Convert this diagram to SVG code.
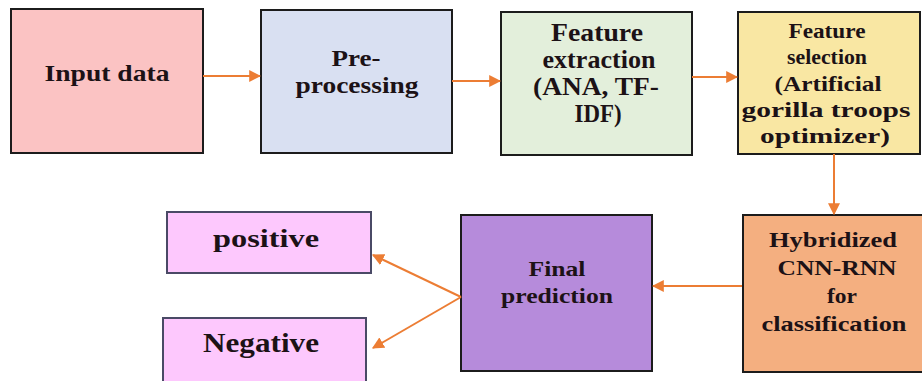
<svg xmlns="http://www.w3.org/2000/svg" width="922" height="381" viewBox="0 0 922 381">
<style>
.box{stroke:#1c1c1c;stroke-width:2}
.leaf{stroke:#4a4a66;stroke-width:2;fill:#fdc8fd}
text{font-family:'Liberation Serif','Times New Roman',Times,serif;font-weight:700;fill:#1c1216;text-anchor:middle}
.c{stroke:#ec7d34;stroke-width:2;fill:none}
</style>
<defs>
<marker id="ah" viewBox="0 0 10 10" refX="9" refY="5" markerWidth="6" markerHeight="6" markerUnits="strokeWidth" orient="auto">
<path d="M0,0 L10,5 L0,10 z" fill="#ec7d34"/>
</marker>
</defs>
<rect width="922" height="381" fill="#ffffff"/>
<g id="input-data">
<rect class="box" x="11" y="9" width="192" height="144" fill="#fbc3c3"/>
<text x="107" y="81" font-size="24" textLength="125" lengthAdjust="spacingAndGlyphs">Input data</text>
</g>
<g id="pre-processing">
<rect class="box" x="261" y="10" width="191" height="143" fill="#d9e0f2"/>
<text x="356" y="66" font-size="24" textLength="49" lengthAdjust="spacingAndGlyphs">Pre-</text>
<text x="357" y="93" font-size="24" textLength="123" lengthAdjust="spacingAndGlyphs">processing</text>
</g>
<g id="feature-extraction">
<rect class="box" x="501" y="12" width="191" height="143" fill="#e3efdb"/>
<text x="597" y="41" font-size="25" textLength="92" lengthAdjust="spacingAndGlyphs">Feature</text>
<text x="599" y="68" font-size="25" textLength="113" lengthAdjust="spacingAndGlyphs">extraction</text>
<text x="596" y="95" font-size="25" textLength="126" lengthAdjust="spacingAndGlyphs">(ANA, TF-</text>
<text x="598" y="122" font-size="25" textLength="47" lengthAdjust="spacingAndGlyphs">IDF)</text>
</g>
<g id="feature-selection">
<rect class="box" x="738" y="12" width="182" height="142" fill="#f9e7a3"/>
<text x="827" y="38" font-size="22" textLength="77" lengthAdjust="spacingAndGlyphs">Feature</text>
<text x="827" y="64" font-size="22" textLength="80" lengthAdjust="spacingAndGlyphs">selection</text>
<text x="828" y="91" font-size="22" textLength="107" lengthAdjust="spacingAndGlyphs">(Artificial</text>
<text x="826" y="117" font-size="22" textLength="169" lengthAdjust="spacingAndGlyphs">gorilla troops</text>
<text x="825" y="143" font-size="22" textLength="130" lengthAdjust="spacingAndGlyphs">optimizer)</text>
</g>
<g id="hybridized">
<rect class="box" x="743" y="215" width="185" height="157" fill="#f4af80"/>
<text x="833" y="247" font-size="22" textLength="128" lengthAdjust="spacingAndGlyphs">Hybridized</text>
<text x="837" y="275" font-size="22" textLength="119" lengthAdjust="spacingAndGlyphs">CNN-RNN</text>
<text x="842" y="303" font-size="22" textLength="30" lengthAdjust="spacingAndGlyphs">for</text>
<text x="834" y="331" font-size="22" textLength="145" lengthAdjust="spacingAndGlyphs">classification</text>
</g>
<g id="final-prediction">
<rect class="box" x="461" y="215" width="191" height="156" fill="#b68bdb"/>
<text x="557" y="276" font-size="21" textLength="57" lengthAdjust="spacingAndGlyphs">Final</text>
<text x="557" y="303" font-size="21" textLength="112" lengthAdjust="spacingAndGlyphs">prediction</text>
</g>
<g id="positive">
<rect class="leaf" x="167" y="212" width="204" height="61"/>
<text x="266" y="247" font-size="26" textLength="106" lengthAdjust="spacingAndGlyphs">positive</text>
</g>
<g id="negative">
<rect class="leaf" x="163" y="318" width="203" height="70"/>
<text x="261" y="352" font-size="27" textLength="116" lengthAdjust="spacingAndGlyphs">Negative</text>
</g>
<g id="connectors">
<line class="c" x1="203" y1="76" x2="260" y2="76" marker-end="url(#ah)"/>
<line class="c" x1="452" y1="81" x2="500" y2="81" marker-end="url(#ah)"/>
<line class="c" x1="692" y1="77" x2="737" y2="77" marker-end="url(#ah)"/>
<line class="c" x1="834" y1="154" x2="834" y2="214" marker-end="url(#ah)"/>
<line class="c" x1="742" y1="286" x2="653" y2="286" marker-end="url(#ah)"/>
<line class="c" x1="461" y1="297" x2="373" y2="255" marker-end="url(#ah)"/>
<line class="c" x1="461" y1="297" x2="373" y2="348" marker-end="url(#ah)"/>
</g>
</svg>
